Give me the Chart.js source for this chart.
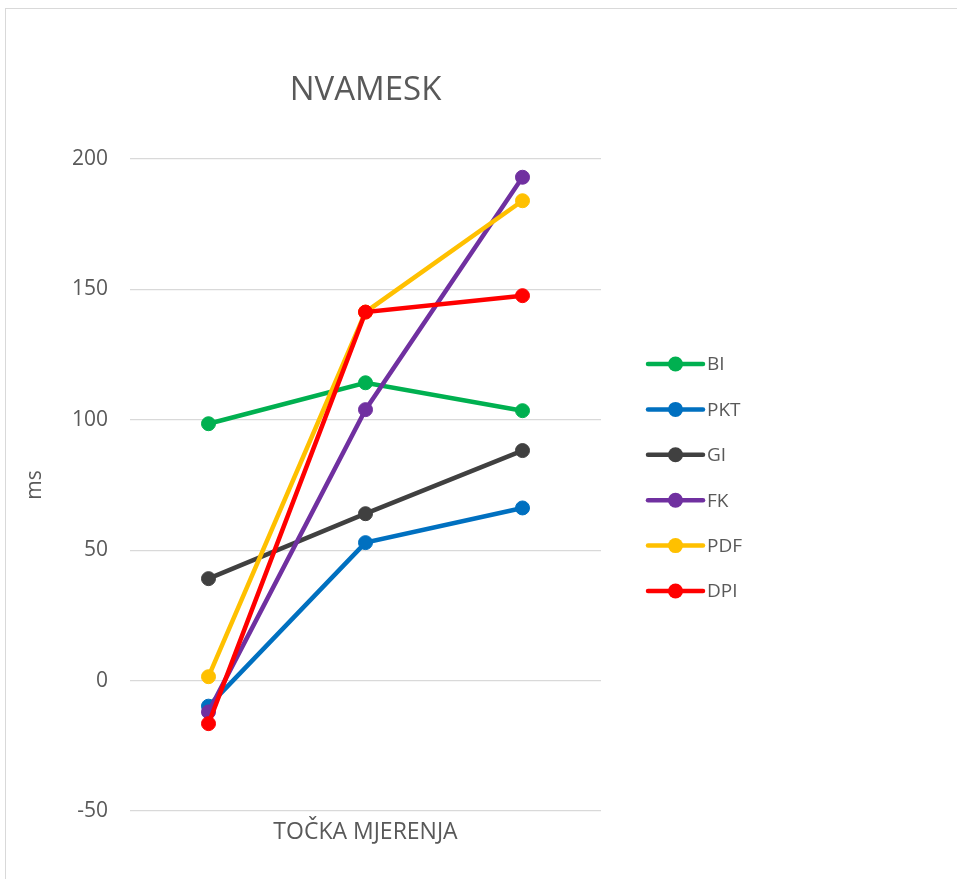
<!DOCTYPE html>
<html>
<head>
<meta charset="utf-8">
<script src="https://cdn.jsdelivr.net/npm/chart.js@4/dist/chart.umd.min.js"></script>
<style>
  html, body { margin: 0; padding: 0; background: #fff; overflow: hidden; }
  #frame { position: absolute; left: 5px; top: 8px; width: 1200px; height: 1200px; border: 1px solid #d9d9d9; }
  #wrap { position: absolute; left: 0; top: 0; width: 957px; height: 879px; }
</style>
</head>
<body>
<div id="frame"></div>
<div id="wrap"><canvas id="chart"></canvas></div>
<script>
// measurement points (no visible labels on the category axis)
const points = ['1', '2', '3'];

const seriesNames = ['BI', 'PKT', 'GI', 'FK', 'PDF', 'DPI'];
const seriesColors = ['#00b050', '#0070c0', '#404040', '#7030a0', '#ffc000', '#ff0000'];

const biValues = [98.5, 114.2, 103.5];
const pktValues = [-9.8, 52.9, 66.2];
const giValues = [39.1, 64.0, 88.2];
const fkValues = [-12.0, 103.9, 193.0];
const pdfValues = [1.5, 141.3, 184.0];
const dpiValues = [-16.5, 141.3, 147.6];

const yTicks = [-50, 0, 50, 100, 150, 200];

const textColor = '#595959';
const fontFamily = '"Open Sans", "Noto Sans", sans-serif';

const allValues = [biValues, pktValues, giValues, fkValues, pdfValues, dpiValues];

const datasets = seriesNames.map((name, i) => ({
    label: name,
    data: allValues[i],
    borderColor: seriesColors[i],
    backgroundColor: seriesColors[i],
    pointBackgroundColor: seriesColors[i],
    pointBorderColor: seriesColors[i],
    borderWidth: 4.5,
    pointRadius: 7,
    pointBorderWidth: 1,
    tension: 0,
    order: seriesNames.length - i // later series drawn on top, like Excel
}));

// legend on the right: short line with a marker, drawn after the chart
const lineLegend = {
    id: 'lineLegend',
    afterDraw(chart) {
        const ctx = chart.ctx;
        const x0 = 648, x1 = 703, top = 364, step = 45.4;
        ctx.save();
        ctx.font = '19px ' + fontFamily;
        ctx.textBaseline = 'middle';
        chart.data.datasets.forEach((ds, i) => {
            const y = top + i * step;
            ctx.strokeStyle = ds.borderColor;
            ctx.lineWidth = 4.5;
            ctx.lineCap = 'round';
            ctx.beginPath();
            ctx.moveTo(x0, y);
            ctx.lineTo(x1, y);
            ctx.stroke();
            ctx.fillStyle = ds.borderColor;
            ctx.beginPath();
            ctx.arc((x0 + x1) / 2, y, 7.5, 0, Math.PI * 2);
            ctx.fill();
            ctx.fillStyle = textColor;
            ctx.fillText(ds.label, x1 + 4, y + 1);
        });
        ctx.restore();
    }
};

new Chart(document.getElementById('chart'), {
    type: 'line',
    data: { labels: points, datasets },
    plugins: [lineLegend],
    options: {
        responsive: true,
        maintainAspectRatio: false,
        animation: false,
        layout: { padding: { left: 0, right: 356, top: 0, bottom: 0 } },
        plugins: {
            legend: { display: false },
            tooltip: { enabled: false },
            title: {
                display: true,
                text: 'NVAMESK',
                fullSize: false,
                color: textColor,
                font: { family: fontFamily, size: 33, weight: 'normal' },
                padding: { top: 71, bottom: 48.4 }
            }
        },
        scales: {
            x: {
                offset: true,
                grid: { display: false },
                border: { display: false },
                ticks: { display: false },
                title: {
                    display: true,
                    text: 'TOČKA MJERENJA',
                    color: textColor,
                    font: { family: fontFamily, size: 23 },
                    padding: { top: 0, bottom: 33 }
                },
                afterFit(axis) { axis.height = 68; }
            },
            y: {
                min: -50,
                max: 200,
                afterBuildTicks(axis) { axis.ticks = yTicks.map(v => ({ value: v })); },
                grid: { color: '#d9d9d9', lineWidth: 1.3, drawTicks: false },
                border: { display: false },
                ticks: {
                    color: textColor,
                    padding: 22,
                    font: { family: fontFamily, size: 21 }
                },
                title: {
                    display: true,
                    text: 'ms',
                    color: textColor,
                    font: { family: fontFamily, size: 21 },
                    padding: { top: 22, bottom: 0 }
                },
                afterFit(axis) { axis.width = 130; }
            }
        }
    }
});
</script>
</body>
</html>
